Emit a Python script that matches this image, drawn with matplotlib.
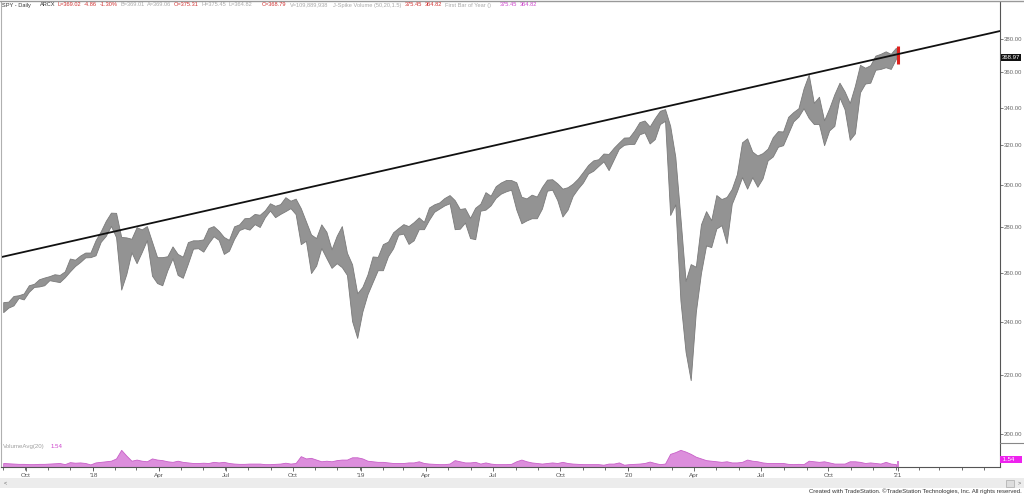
import matplotlib
matplotlib.use("Agg")
import matplotlib.pyplot as plt
import matplotlib.dates as mdates
import pandas as pd

plt.rcParams['font.family'] = ['Liberation Sans', 'DejaVu Sans']

# SPY weekly price ranges (week ending Friday, Sep 2017 .. Jan 1 2021)
lows = [
    # 2017
    243.8, 245.6, 246.5, 249.5, 248.9, 252.0, 254.0, 254.2, 254.7, 256.8, 256.4, 256.0,
    258.0, 260.5, 262.8, 264.5, 266.5, 266.6,
    # 2018
    267.4, 273.3, 276.0, 280.5, 275.4, 252.9, 259.4, 268.7, 264.0, 268.8, 274.1, 258.7,
    255.6, 254.7, 261.0, 266.1, 259.0, 257.8, 263.8, 270.3, 270.5, 269.0, 272.7, 275.8,
    274.2, 268.0, 269.4, 274.6, 278.6, 279.5, 278.8, 281.3, 280.0, 284.5, 287.6, 284.5,
    286.0, 287.3, 288.7, 285.9, 272.3, 273.8, 259.8, 263.0, 270.6, 266.2, 262.0, 264.0,
    262.3, 259.0, 240.3, 233.8,
    # 2019
    244.0, 251.0, 256.0, 261.0, 261.0, 267.0, 270.5, 276.5, 277.0, 272.4, 274.0, 279.0,
    279.0, 283.3, 287.0, 288.5, 290.0, 291.0, 279.0, 279.2, 282.0, 275.0, 274.5, 287.5,
    288.0, 290.0, 293.6, 295.6, 296.7, 297.5, 288.1, 281.7, 283.0, 284.0, 284.0, 288.5,
    297.0, 297.5, 292.5, 284.8, 288.0, 294.5, 298.0, 301.0, 305.4, 306.8, 309.2, 311.5,
    307.1, 312.5, 318.0, 320.0,
    # 2020
    320.4, 320.5, 325.5, 326.5, 320.7, 323.0, 331.0, 332.7, 285.5, 290.5, 248.4, 228.6,
    218.3, 243.9, 259.8, 271.7, 271.0, 279.3, 280.8, 272.7, 290.7, 296.7, 303.6, 298.0,
    303.6, 298.9, 303.0, 312.0, 314.0, 319.0, 319.8, 326.0, 332.4, 335.0, 339.6, 334.3,
    331.0, 331.0, 319.8, 327.6, 330.0, 345.6, 339.0, 322.6, 326.0, 348.5, 353.5, 354.0,
    361.5, 362.0, 363.0, 362.0, 368.0,
]
highs = [
    # 2017
    247.8, 248.0, 250.3, 250.6, 251.3, 254.7, 255.3, 257.2, 257.9, 258.5, 259.3, 259.0,
    260.5, 266.0, 265.5, 267.3, 268.6, 268.6,
    # 2018
    274.0, 278.0, 282.8, 286.6, 286.5, 275.5, 275.3, 274.7, 279.9, 278.9, 280.4, 273.4,
    266.6, 266.6, 267.0, 271.3, 268.0, 266.8, 273.2, 274.0, 274.0, 274.4, 279.5, 280.4,
    278.3, 275.5, 274.2, 280.3, 281.2, 284.0, 284.2, 286.0, 285.6, 287.7, 291.0, 289.8,
    290.6, 293.9, 292.2, 293.2, 288.7, 282.6, 276.6, 275.0, 281.2, 277.8, 270.0, 276.0,
    280.4, 268.5, 263.5, 251.4,
    # 2019
    254.0, 259.2, 266.9, 266.7, 272.3, 273.4, 277.6, 279.5, 281.3, 280.4, 282.2, 284.4,
    282.3, 289.0, 290.5, 291.4, 293.5, 294.9, 292.5, 288.3, 288.7, 284.2, 288.9, 290.8,
    296.3, 294.6, 299.2, 301.0, 302.2, 302.2, 301.1, 294.1, 293.3, 295.1, 294.2, 298.8,
    302.4, 302.6, 300.6, 298.0, 298.7, 300.4, 302.9, 306.2, 309.7, 312.0, 312.6, 315.5,
    315.3, 318.5, 321.2, 323.8,
    # 2020
    323.9, 327.5, 332.0, 332.9, 329.7, 334.2, 338.2, 339.1, 330.0, 313.8, 284.2, 256.5,
    263.6, 262.5, 281.2, 287.3, 283.1, 294.9, 293.0, 294.0, 297.9, 305.1, 321.3, 323.4,
    316.5, 314.5, 315.7, 318.0, 324.0, 327.2, 327.0, 334.9, 337.5, 339.6, 350.7, 358.7,
    342.6, 346.0, 333.0, 339.6, 347.4, 354.0, 349.0, 342.5, 352.2, 364.4, 362.7, 364.2,
    369.9, 371.0, 372.5, 371.0, 374.7,
]
# weekly average volume, millions of shares
volume = [
    70, 65, 60, 55, 55, 50, 50, 55, 55, 60, 65, 70, 50, 85, 75, 80, 70, 45,
    80, 90, 100, 110, 150, 300, 200, 110, 130, 110, 100, 150, 130, 120, 100, 90, 110,
    90, 80, 70, 70, 75, 70, 90, 80, 90, 70, 60, 55, 55, 60, 60, 60, 50, 50,
    55, 60, 75, 60, 70, 190, 150, 160, 130, 100, 110, 100, 120, 130, 130, 170, 170,
    150, 110, 100, 90, 90, 80, 70, 70, 70, 80, 80, 100, 70, 60, 55, 50, 50,
    60, 120, 100, 80, 80, 90, 60, 80, 60, 50, 50, 50, 55, 100, 130, 100, 80, 70,
    60, 70, 80, 70, 90, 70, 60, 55, 50, 50, 50, 50, 40, 60, 60, 80, 40,
    50, 55, 60, 70, 95, 70, 50, 60, 230, 260, 300, 270, 230, 180, 150, 120, 110,
    100, 90, 100, 80, 80, 90, 130, 110, 100, 80, 70, 70, 70, 70, 55, 50, 55, 50,
    110, 100, 90, 100, 80, 60, 60, 60, 100, 100, 90, 70, 80, 70, 60, 90, 60, 50,
]
weeks = pd.date_range('2017-09-01', periods=len(lows), freq='W-FRI')

# last bar (Jan 4 2021)
last_date = pd.Timestamp('2021-01-04')
last_high, last_low, last_close = 375.45, 364.82, 368.97
last_volume = 110

# trendline anchors
trend_dates = [pd.Timestamp('2017-08-29'), pd.Timestamp('2021-05-23')]
trend_prices = [266.6, 385.0]

tick_dates = ['2017-10-02', '2018-01-02', '2018-04-02', '2018-07-02', '2018-10-01',
              '2019-01-02', '2019-04-01', '2019-07-01', '2019-10-01', '2020-01-02',
              '2020-04-01', '2020-07-01', '2020-10-01', '2021-01-04']
tick_labels = ['Oct', "'18", 'Apr', 'Jul', 'Oct', "'19", 'Apr', 'Jul', 'Oct', "'20",
               'Apr', 'Jul', 'Oct', "'21"]
price_ticks = [200, 220, 240, 260, 280, 300, 320, 340, 360, 380]

W, H = 1024, 495
fig = plt.figure(figsize=(W / 100, H / 100), dpi=100)
fig.patch.set_facecolor('white')

xmin, xmax = pd.Timestamp('2017-08-29'), pd.Timestamp('2021-05-23')

# price panel
ax = fig.add_axes([1 / W, 52 / H, 999 / W, 441 / H])
ax.set_yscale('log')
ax.set_ylim(197.1, 403.6)
ax.set_xlim(xmin, xmax)
ax.fill_between(weeks, lows, highs, color='#939393', lw=0.6, edgecolor='#7a7a7a')
ax.vlines([last_date], [last_low], [last_high], color='#e0201c', lw=2.2)
ax.plot(trend_dates, trend_prices, color='#111111', lw=1.3)

ax.yaxis.tick_right()
ax.set_yticks(price_ticks)
ax.set_yticklabels([f'{p:.2f}' for p in price_ticks])
ax.yaxis.set_minor_locator(matplotlib.ticker.NullLocator())
ax.tick_params(axis='y', labelsize=4.3, colors='#666666', length=2, width=0.6, pad=1)
ax.set_xticks([])
for s in ['top', 'bottom']:
    ax.spines[s].set_visible(False)
ax.spines['left'].set_color('#b0b0b0')
ax.spines['left'].set_linewidth(0.8)
ax.spines['right'].set_color('#555555')
ax.spines['right'].set_linewidth(0.8)

# last price box
ax.text(1.0015, last_close, '368.97', transform=ax.get_yaxis_transform(), fontsize=4.3,
        color='white', va='center', ha='left',
        bbox=dict(boxstyle='square,pad=0.15', fc='#111111', ec='none'))

# volume panel
axv = fig.add_axes([1 / W, 28 / H, 999 / W, 24 / H])
axv.set_xlim(xmin, xmax)
axv.set_ylim(0, 420)
axv.fill_between(weeks, volume, color='#dc8edc', lw=0.6, edgecolor='#c860c8')
axv.vlines([last_date], [0], [last_volume], color='#cc66cc', lw=1.2)
axv.set_yticks([])
axv.set_xticks(pd.to_datetime(tick_dates))
axv.set_xticklabels(tick_labels)
axv.xaxis.set_minor_locator(mdates.MonthLocator())
axv.tick_params(axis='x', which='major', labelsize=4.6, colors='#555555',
                length=3, width=0.6, pad=1.5)
axv.tick_params(axis='x', which='minor', length=2, width=0.6, colors='#555555')
axv.spines['top'].set_visible(False)
axv.spines['left'].set_color('#b0b0b0')
axv.spines['bottom'].set_color('#555555')
axv.spines['bottom'].set_linewidth(0.8)
axv.spines['right'].set_color('#555555')
axv.spines['right'].set_linewidth(0.8)
axv.text(0.002, 0.85, 'VolumeAvg(20)', transform=axv.transAxes, fontsize=4.4,
         color='#a0a0a0', va='center', ha='left')
axv.text(0.05, 0.85, '1.54', transform=axv.transAxes, fontsize=4.4,
         color='#cc44cc', va='center', ha='left')
axv.text(1.0015, 0.3, ' 1.54    ', transform=axv.transAxes, fontsize=4.3,
         color='white', va='center', ha='left',
         bbox=dict(boxstyle='square,pad=0.2', fc='#ee22ee', ec='none'))

# separator in the right axis strip
fig.add_artist(plt.Line2D([1000 / W, 1], [1 - 443 / H, 1 - 443 / H], color='#888888', lw=0.8))
# top border
fig.add_artist(plt.Line2D([0, 1], [1 - 1 / H, 1 - 1 / H], color='#999999', lw=1.0))

# scrollbar strip
fig.add_artist(plt.Rectangle((0, 1 - 488 / H), 1, 10 / H, color='#ececec', lw=0))
fig.text(4 / W, 1 - 483 / H, '<', fontsize=4, color='#666666', va='center')
fig.add_artist(plt.Rectangle((1006 / W, 1 - 487 / H), 8 / W, 7 / H, fc='#dddddd',
                             ec='#aaaaaa', lw=0.5))
fig.text(1018 / W, 1 - 483 / H, '>', fontsize=4, color='#666666', va='center')

fig.text(1022 / W, 1 - 491 / H,
         'Created with TradeStation. \u00a9TradeStation Technologies, Inc. All rights reserved.',
         fontsize=4.3, color='#333333', ha='right', va='center')

# header: segments placed left to right, never closer than a small gap
header = [
    (2, 'SPY - Daily', '#333333'), (40, 'ARCX', '#333333'), (53, 'L=369.02', '#d03030'),
    (80, '-4.86', '#d03030'), (97, '-1.30%', '#d03030'), (120, 'B=369.01', '#a8a8a8'),
    (146, 'A=369.06', '#a8a8a8'), (174, 'O=375.31', '#d03030'), (200, 'H=375.45', '#a8a8a8'),
    (227, 'L=364.82', '#a8a8a8'), (262, 'C=368.79', '#d03030'),
    (290, 'V=109,889,938', '#a8a8a8'), (333, 'J-Spike Volume (50,20,1.5)', '#a8a8a8'),
    (405, '375.45', '#d03030'), (420, '364.82', '#d03030'),
    (437, 'First Bar of Year ()', '#a8a8a8'), (500, '375.45', '#cc44cc'),
    (520, '364.82', '#cc44cc'),
]
renderer = fig.canvas.get_renderer()
prev_end = 0
for x, t, c in header:
    x0 = max(x, prev_end + 2.5)
    txt = fig.text(x0 / W, 1 - 5 / H, t, fontsize=4.1, color=c, ha='left', va='center')
    prev_end = txt.get_window_extent(renderer).x1

fig.savefig('out.png', dpi=100)
